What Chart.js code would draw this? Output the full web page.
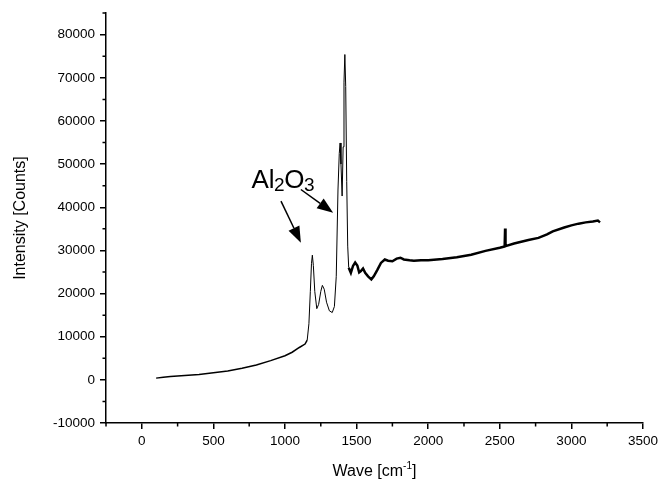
<!DOCTYPE html>
<html>
<head>
<meta charset="utf-8">
<script src="https://cdn.jsdelivr.net/npm/chart.js@4.4.1/dist/chart.umd.min.js"></script>
<style>
  html, body { margin: 0; padding: 0; background: #fff; }
  #wrap { width: 662px; height: 481px; }
</style>
</head>
<body>
<div id="wrap"><canvas id="chart"></canvas></div>
<script>
// spectrum
const waves = [100, 150, 200, 300, 400, 500, 600, 700, 800, 900, 1000, 1050, 1100, 1140,
  1155, 1167, 1177, 1185, 1191, 1198, 1208, 1222, 1235, 1250, 1261, 1274, 1290, 1310, 1330,
  1345, 1358, 1370, 1379, 1385, 1391, 1399, 1406, 1412, 1418, 1424, 1431, 1438, 1445,
  1460, 1475, 1490, 1505, 1518, 1530, 1545, 1560, 1580, 1603, 1620, 1645, 1670, 1697,
  1720, 1750, 1780, 1806, 1830, 1870, 1900, 1950, 2000, 2100, 2200, 2300, 2400, 2500,
  2534, 2537, 2540, 2600, 2700, 2770, 2830, 2870, 2950, 3000, 3050, 3100, 3150, 3185, 3200];
const intensity = [400, 600, 750, 1000, 1250, 1650, 2050, 2700, 3450, 4450, 5600, 6400, 7500, 8300,
  9200, 13000, 20500, 27000, 28900, 26500, 20500, 16500, 17500, 20500, 21900, 21000, 18000, 16000, 15600,
  17000, 24000, 44000, 52500, 54900, 50000, 42600, 54000, 69000, 75400, 68000, 46000, 31000, 26000,
  24800, 26400, 27200, 26500, 24900, 25200, 25800, 24800, 24000, 23300, 24000, 25500, 27100, 27900,
  27600, 27500, 28100, 28300, 27900, 27700, 27600, 27700, 27700, 28000, 28400, 29000, 29900, 30600,
  30900, 35100, 31000, 31600, 32400, 32900, 33700, 34400, 35300, 35800, 36200, 36500, 36700, 36900, 36500];

const xTicks = [0, 500, 1000, 1500, 2000, 2500, 3000, 3500];
const yTicks = [-10000, 0, 10000, 20000, 30000, 40000, 50000, 60000, 70000, 80000];
const xMin = -250, xMax = 3500;
const yMin = -10000, yMax = 85000;

const FONT = "'Liberation Sans', Arial, sans-serif";

// minor ticks, axis title with superscript, and the Al2O3 note
const extras = {
  id: 'extras',
  afterDraw(chart) {
    const { ctx, scales: { x, y }, chartArea } = chart;
    ctx.save();
    ctx.strokeStyle = '#000';
    ctx.lineWidth = 1.5;
    ctx.beginPath();
    // minor ticks half way between the labelled ones
    for (let v = xMin; v < xMax; v += 500) {
      const px = x.getPixelForValue(v);
      ctx.moveTo(px, chartArea.bottom);
      ctx.lineTo(px, chartArea.bottom + 3.5);
    }
    for (let v = yMin + 5000; v <= yMax; v += 10000) {
      const py = y.getPixelForValue(v);
      ctx.moveTo(chartArea.left, py);
      ctx.lineTo(chartArea.left - 3.5, py);
    }
    ctx.stroke();

    // x axis title: Wave [cm^-1]
    ctx.fillStyle = '#000';
    ctx.textBaseline = 'alphabetic';
    const big = '16px ' + FONT, small = '10px ' + FONT;
    const parts = [['Wave [cm', big, 0], ['-1', small, -7], [']', big, 0]];
    let total = 0;
    parts.forEach(p => { ctx.font = p[1]; total += ctx.measureText(p[0]).width; });
    let cx = (chartArea.left + chartArea.right) / 2 - total / 2;
    const by = 476;
    parts.forEach(p => {
      ctx.font = p[1];
      ctx.fillText(p[0], cx, by + p[2]);
      cx += ctx.measureText(p[0]).width;
    });

    // Al2O3 label
    let tx = x.getPixelForValue(766);
    const ty = y.getPixelForValue(44490);
    const label = [['Al', '26px ' + FONT, 0], ['2', '19px ' + FONT, 3], ['O', '26px ' + FONT, 0], ['3', '19px ' + FONT, 3]];
    label.forEach(p => {
      ctx.font = p[1];
      ctx.fillText(p[0], tx, ty + p[2]);
      tx += ctx.measureText(p[0]).width - 0.5;
    });

    const arrow = (x0, y0, x1, y1) => {
      const ax = x.getPixelForValue(x0), ay = y.getPixelForValue(y0);
      const bx = x.getPixelForValue(x1), byy = y.getPixelForValue(y1);
      const ang = Math.atan2(byy - ay, bx - ax);
      const hl = 16, hw = 6;
      const baseX = bx - hl * Math.cos(ang), baseY = byy - hl * Math.sin(ang);
      ctx.lineWidth = 1.5;
      ctx.beginPath();
      ctx.moveTo(ax, ay);
      ctx.lineTo(baseX, baseY);
      ctx.stroke();
      ctx.beginPath();
      ctx.moveTo(bx, byy);
      ctx.lineTo(baseX + hw * Math.sin(ang), baseY - hw * Math.cos(ang));
      ctx.lineTo(baseX - hw * Math.sin(ang), baseY + hw * Math.cos(ang));
      ctx.closePath();
      ctx.fill();
    };
    arrow(972, 41420, 1111, 31800);
    arrow(1111, 44120, 1336, 38720);
    ctx.restore();
  }
};

new Chart(document.getElementById('chart'), {
  type: 'line',
  data: {
    datasets: [{
      data: waves.map((w, i) => ({ x: w, y: intensity[i] })),
      borderColor: '#000',
      borderWidth: 1.5,
      pointRadius: 0,
      tension: 0,
      segment: {
        borderWidth: c => {
          const w = c.p0.parsed.x;
          if (w >= 1440) return 2.5;
          if (w >= 1150) return 1;
          return 1.5;
        }
      }
    }]
  },
  options: {
    responsive: true,
    maintainAspectRatio: false,
    animation: false,
    layout: { padding: { top: 11, right: 17, left: 0, bottom: 0 } },
    plugins: { legend: { display: false }, tooltip: { enabled: false } },
    scales: {
      x: {
        type: 'linear',
        min: xMin,
        max: xMax,
        afterFit: s => { s.height = 58; },
        afterBuildTicks: s => { s.ticks = xTicks.map(v => ({ value: v })); },
        ticks: { color: '#000', padding: 4, maxRotation: 0, autoSkip: false, callback: v => String(v), font: { family: FONT, size: 13.5 } },
        grid: { drawOnChartArea: false, drawTicks: true, tickLength: 6, color: '#000', lineWidth: 1.5 },
        border: { display: true, color: '#000', width: 1.5 }
      },
      y: {
        min: yMin,
        max: yMax,
        afterFit: s => { s.width = 106; },
        afterBuildTicks: s => { s.ticks = yTicks.map(v => ({ value: v })); },
        ticks: { color: '#000', padding: 5, autoSkip: false, callback: v => String(v), font: { family: FONT, size: 13.5 } },
        grid: { drawOnChartArea: false, drawTicks: true, tickLength: 6, color: '#000', lineWidth: 1.5 },
        border: { display: true, color: '#000', width: 1.5 },
        title: { display: true, text: 'Intensity [Counts]', color: '#000', padding: { top: 11, bottom: 0 }, font: { family: FONT, size: 16 } }
      }
    }
  },
  plugins: [extras]
});
</script>
</body>
</html>
